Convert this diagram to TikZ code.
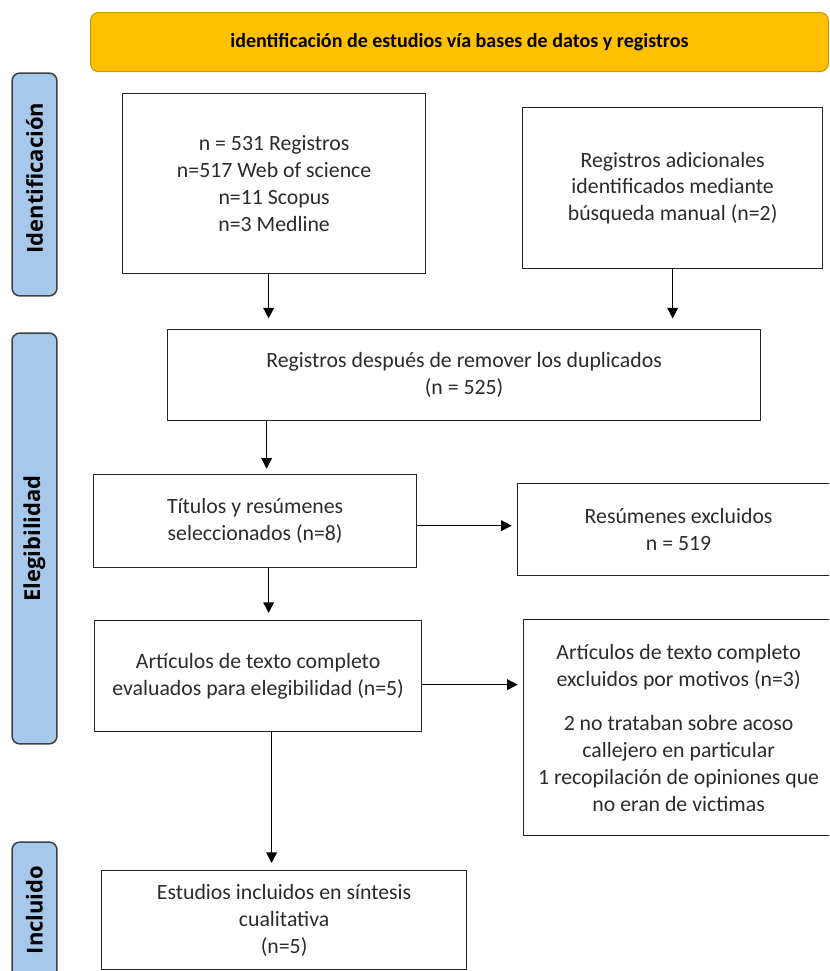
\documentclass[tikz,border=0pt]{standalone}
\usepackage{fontspec}
\setmainfont{Carlito}
\newfontfamily\sidefont{Open Sans}
\usetikzlibrary{arrows.meta, positioning}

\definecolor{bannerfill}{HTML}{FFC000}
\definecolor{bannerline}{HTML}{C99A00}
\definecolor{barfill}{HTML}{A6C8EA}
\definecolor{barline}{HTML}{404040}
\definecolor{boxline}{HTML}{262626}
\definecolor{boxtext}{HTML}{2B2B2B}

\begin{document}
\begin{tikzpicture}[x=0.02cm, y=-0.02cm, >={Triangle[length=6pt, width=6pt]},
	box/.style={draw=boxline, line width=0.75pt, rectangle, anchor=north west, inner sep=0pt, align=center, text=boxtext, font=\fontsize{12.4}{15.3}\selectfont},
	bar/.style={draw=barline, fill=barfill, line width=0.85pt, rounded corners=4.5pt, inner sep=0pt, minimum width=0.9cm},
	barlabel/.style={rotate=90, font=\sidefont\bfseries\fontsize{12.5}{15}\selectfont},
	arr/.style={->, line width=0.8pt, draw=black, shorten >=3pt}]
	\useasboundingbox (0,0) rectangle (829,971);
	\clip (0,0) rectangle (829,971);

	% encabezado
	\node [draw=bannerline, fill=bannerfill, line width=0.6pt, rounded corners=4.5pt, anchor=north west, inner sep=0pt,
		minimum width=14.76cm, minimum height=1.18cm, font=\bfseries\fontsize{11.4}{13}\selectfont] (banner) at (90,12)
		{identificación de estudios vía bases de datos y registros};

	% fases
	\node [bar, minimum height=4.46cm] (barid) at (34.5,184.5) {};
	\node [barlabel] (lblid) at (34.5,178) {Identificación};
	\node [bar, minimum height=8.22cm] (barel) at (34.5,538.5) {};
	\node [barlabel] (lblel) at (barel.center) {Elegibilidad};
	\node [bar, minimum height=3.16cm] (barin) at (34.5,921) {};
	\node [barlabel] (lblin) at (34.5,910) {Incluido};

	% cajas
	\node [box, minimum width=6.06cm, minimum height=3.6cm] (regs) at (122,93)
		{n = 531 Registros\\ n=517 Web of science\\ n=11 Scopus\\ n=3 Medline};
	\node [box, minimum width=6cm, minimum height=3.22cm] (manual) at (522,107)
		{Registros adicionales\\ identificados mediante\\ búsqueda manual (n=2)};
	\node [box, minimum width=11.86cm, minimum height=1.82cm] (dupl) at (167,329)
		{Registros después de remover los duplicados\\ (n = 525)};
	\node [box, minimum width=6.46cm, minimum height=1.86cm] (tits) at (93,474)
		{Títulos y resúmenes\\ seleccionados (n=8)};
	\node [box, minimum width=6.44cm, minimum height=1.84cm] (resex) at (517,483)
		{Resúmenes excluidos\\ n = 519};
	\node [box, minimum width=6.54cm, minimum height=2.22cm] (arts) at (94,620)
		{Artículos de texto completo\\ evaluados para elegibilidad (n=5)};
	\node [box, minimum width=6.2cm, minimum height=4.32cm] (artex) at (523,619)
		{Artículos de texto completo\\ excluidos por motivos (n=3)\\[10pt]
		 2 no trataban sobre acoso\\ callejero en particular\\
		 1 recopilación de opiniones que\\ no eran de victimas};
	\node [box, minimum width=7.3cm, minimum height=1.98cm] (incl) at (101,870)
		{Estudios incluidos en síntesis\\ cualitativa\\ (n=5)};

	% flechas
	\draw [arr, shorten >=6pt] ([xshift=-0.11cm]regs.south) -- ([xshift=-0.11cm]regs.south |- dupl.north);
	\draw [arr, shorten >=6pt] (manual.south) -- (manual.south |- dupl.north);
	\draw [arr, shorten >=3pt] ([xshift=0.23cm]tits.north |- dupl.south) -- ([xshift=0.23cm]tits.north);
	\draw [arr, shorten >=4pt] ([xshift=0.27cm]tits.south) -- ([xshift=0.27cm]tits.south |- arts.north);
	\draw [arr, shorten >=4pt] ([xshift=0.27cm]arts.south) -- ([xshift=0.27cm]arts.south |- incl.north);
	\draw [arr] ([yshift=-0.09cm]tits.east) -- ([yshift=-0.09cm]tits.east -| resex.west);
	\draw [arr] ([yshift=-0.17cm]arts.east) -- ([yshift=-0.17cm]arts.east -| artex.west);
\end{tikzpicture}
\end{document}
